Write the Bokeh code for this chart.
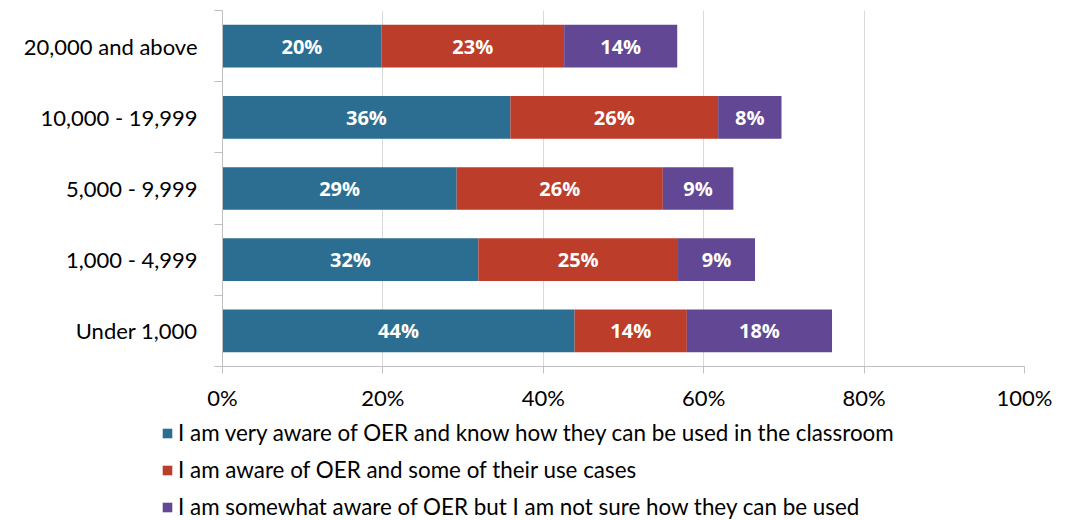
from bokeh.plotting import figure
from bokeh.layouts import column
from bokeh.core.properties import value
from bokeh.models import (Range1d, FixedTicker, PrintfTickFormatter, ColumnDataSource,
                          Legend, LegendItem, LabelSet)
from bokeh.embed import file_html
from bokeh.resources import INLINE

# ---- data (bottom to top) ----
categories = ["Under 1,000", "1,000 - 4,999", "5,000 - 9,999", "10,000 - 19,999", "20,000 and above"]
very_aware = [43.9, 31.9, 29.2, 35.9, 19.8]
aware_some = [14.0, 24.9, 25.7, 25.9, 22.8]
somewhat = [18.1, 9.6, 8.8, 7.9, 14.1]
very_labels = ["44%", "32%", "29%", "36%", "20%"]
aware_labels = ["14%", "25%", "26%", "26%", "23%"]
somewhat_labels = ["18%", "9%", "9%", "8%", "14%"]
series_names = [
    "I am very aware of OER and know how they can be used in the classroom",
    "I am aware of OER and some of their use cases",
    "I am somewhat aware of OER but I am not sure how they can be used",
]
x_ticks = [0, 20, 40, 60, 80, 100]

colors = ["#2b6e91", "#bc3d2a", "#624894"]
FONT = "Lato"
BOLD_FONT = "Open Sans"

n = len(categories)
ypos = [i + 0.5 for i in range(n)]
series = [very_aware, aware_some, somewhat]
labels = [very_labels, aware_labels, somewhat_labels]

p = figure(width=1057, height=413, output_backend="svg", toolbar_location=None,
           x_range=Range1d(0, 100), y_range=Range1d(0, n),
           min_border_left=222, min_border_right=33, min_border_top=10, min_border_bottom=46)
p.frame_align = False
p.outline_line_color = None
p.background_fill_color = "white"
p.border_fill_color = "white"

sources = []
left = [0.0] * n
for vals, labs, col in zip(series, labels, colors):
    right = [l + v for l, v in zip(left, vals)]
    src = ColumnDataSource(dict(y=ypos, left=left, right=right,
                                mid=[(l + r) / 2 for l, r in zip(left, right)], lab=labs))
    sources.append(src)
    p.hbar(y="y", left="left", right="right", height=0.6, source=src,
           fill_color=col, line_color=None)
    ls = LabelSet(x="mid", y="y", text="lab", source=src, text_color="white",
                  text_font=value(BOLD_FONT), text_font_style="bold", text_font_size="20px",
                  text_align="center", text_baseline="middle")
    p.add_layout(ls)
    left = right

# x axis
p.xaxis.ticker = FixedTicker(ticks=x_ticks, minor_ticks=[])
p.xaxis.formatter = PrintfTickFormatter(format="%d%%")
p.xaxis.axis_line_color = "#bfbfbf"
p.xaxis.major_tick_line_color = "#bfbfbf"
p.xaxis.major_tick_out = 7
p.xaxis.major_tick_in = 0
p.xaxis.major_label_standoff = 10
p.xaxis.major_label_text_font = FONT
p.xaxis.major_label_text_font_size = "22px"
p.xaxis.major_label_text_color = "#000000"

# y axis
p.yaxis.ticker = FixedTicker(ticks=ypos, minor_ticks=[float(i) for i in range(n + 1)])
p.yaxis.major_label_overrides = {y: c for y, c in zip(ypos, categories)}
p.yaxis.axis_line_color = "#bfbfbf"
p.yaxis.major_tick_line_color = None
p.yaxis.major_tick_out = 0
p.yaxis.major_tick_in = 0
p.yaxis.minor_tick_line_color = "#bfbfbf"
p.yaxis.minor_tick_out = 8
p.yaxis.minor_tick_in = 0
p.yaxis.major_label_standoff = 17
p.yaxis.major_label_text_font = FONT
p.yaxis.major_label_text_font_size = "22px"
p.yaxis.major_label_text_color = "#000000"

p.xgrid.ticker = FixedTicker(ticks=x_ticks, minor_ticks=[])
p.xgrid.grid_line_color = "#d9d9d9"
p.ygrid.grid_line_color = None

# legend strip below the chart (hidden renderers only provide the swatches)
lg = figure(width=1057, height=107, output_backend="svg", toolbar_location=None,
            x_range=Range1d(0, 100), y_range=Range1d(0, n), min_border=0,
            x_axis_type=None, y_axis_type=None)
lg.frame_align = False
lg.outline_line_color = None
lg.background_fill_color = "white"
lg.border_fill_color = "white"
lg.xgrid.visible = False
lg.ygrid.visible = False
swatches = []
for src, col in zip(sources, colors):
    r = lg.hbar(y="y", left="left", right="right", height=0.6, source=src,
                fill_color=col, line_color=None)
    r.visible = False
    swatches.append(r)
legend = Legend(items=[LegendItem(label=nm, renderers=[r]) for nm, r in zip(series_names, swatches)],
                location=(161, 0), orientation="vertical",
                border_line_color=None, background_fill_alpha=0,
                inactive_fill_alpha=0,
                padding=0, margin=0, spacing=10,
                glyph_width=12, glyph_height=12, label_height=21, label_standoff=5,
                label_text_font=FONT, label_text_font_size="22.4px", label_text_color="#000000")
lg.add_layout(legend, "center")

layout = column(p, lg, spacing=0)
open("out.html", "w").write(file_html(layout, INLINE))
